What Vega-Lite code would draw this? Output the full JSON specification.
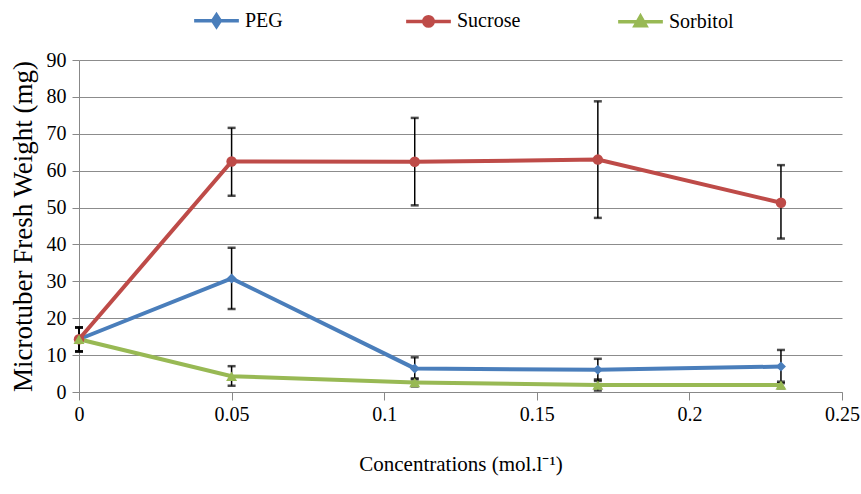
{
  "$schema": "https://vega.github.io/schema/vega-lite/v6.json",
  "width": 763,
  "height": 332,
  "autosize": {"type": "none"},
  "padding": {"left": 79, "top": 60, "right": 19, "bottom": 102},
  "background": "white",
  "config": {
    "font": "Liberation Serif",
    "view": {"stroke": null},
    "axis": {"labelColor": "black", "titleColor": "black", "titleFontWeight": "normal", "labelFont": "Liberation Serif", "titleFont": "Liberation Serif"},
    "axisX": {
      "format": "~g",
      "grid": false,
      "domainColor": "#888888",
      "tickColor": "#888888",
      "tickSize": 8,
      "labelFont": "Liberation Serif",
      "titleFont": "Liberation Serif",
      "labelFontSize": 20,
      "labelPadding": 4,
      "titleFontSize": 21,
      "titlePadding": 29,
      "labelFlush": false
    },
    "axisY": {
      "grid": true,
      "gridColor": "#8c8c8c",
      "gridWidth": 1,
      "domainColor": "#888888",
      "tickColor": "#888888",
      "tickSize": 7,
      "labelFont": "Liberation Serif",
      "titleFont": "Liberation Serif",
      "labelFontSize": 20,
      "labelPadding": 6,
      "titleFontSize": 27,
      "titlePadding": 9
    }
  },
  "data": {
    "values": [
      {"conc": 0, "series": "PEG", "mean": 14.3, "lo": 11.0, "hi": 17.5},
      {"conc": 0.05, "series": "PEG", "mean": 30.8, "lo": 22.5, "hi": 39.1},
      {"conc": 0.11, "series": "PEG", "mean": 6.4, "lo": 3.4, "hi": 9.4},
      {"conc": 0.17, "series": "PEG", "mean": 6.0, "lo": 3.0, "hi": 9.0},
      {"conc": 0.23, "series": "PEG", "mean": 6.9, "lo": 2.4, "hi": 11.4},
      {"conc": 0, "series": "Sucrose", "mean": 14.3, "lo": 11.0, "hi": 17.5},
      {"conc": 0.05, "series": "Sucrose", "mean": 62.5, "lo": 53.2, "hi": 71.6},
      {"conc": 0.11, "series": "Sucrose", "mean": 62.4, "lo": 50.6, "hi": 74.3},
      {"conc": 0.17, "series": "Sucrose", "mean": 63.0, "lo": 47.2, "hi": 78.8},
      {"conc": 0.23, "series": "Sucrose", "mean": 51.3, "lo": 41.6, "hi": 61.5},
      {"conc": 0, "series": "Sorbitol", "mean": 14.3, "lo": 11.0, "hi": 17.5},
      {"conc": 0.05, "series": "Sorbitol", "mean": 4.3, "lo": 1.7, "hi": 7.0},
      {"conc": 0.11, "series": "Sorbitol", "mean": 2.6, "lo": 1.5, "hi": 3.7},
      {"conc": 0.17, "series": "Sorbitol", "mean": 1.9, "lo": 0.4, "hi": 3.4},
      {"conc": 0.23, "series": "Sorbitol", "mean": 1.9, "lo": 1.0, "hi": 2.8}
    ]
  },
  "encoding": {
    "x": {
      "field": "conc", "type": "quantitative",
      "scale": {"domain": [0, 0.25], "nice": false},
      "axis": {"values": [0, 0.05, 0.1, 0.15, 0.2, 0.25], "title": "Concentrations (mol.l⁻¹)"}
    }
  },
  "layer": [
    {
      "mark": {"type": "rule", "color": "black", "strokeWidth": 1.5},
      "encoding": {
        "y": {
          "field": "lo", "type": "quantitative",
          "scale": {"domain": [0, 90], "nice": false},
          "axis": {"values": [0, 10, 20, 30, 40, 50, 60, 70, 80, 90], "title": "Microtuber Fresh Weight (mg)"}
        },
        "y2": {"field": "hi"}
      }
    },
    {
      "mark": {"type": "tick", "color": "black", "orient": "horizontal", "size": 8, "thickness": 2.5},
      "encoding": {
        "y": {"field": "lo", "type": "quantitative", "axis": {"values": [0, 10, 20, 30, 40, 50, 60, 70, 80, 90], "title": "Microtuber Fresh Weight (mg)"}}
      }
    },
    {
      "mark": {"type": "tick", "color": "black", "orient": "horizontal", "size": 8, "thickness": 2.5},
      "encoding": {
        "y": {"field": "hi", "type": "quantitative", "axis": {"values": [0, 10, 20, 30, 40, 50, 60, 70, 80, 90], "title": "Microtuber Fresh Weight (mg)"}}
      }
    },
    {
      "mark": {"type": "line", "strokeWidth": 4},
      "encoding": {
        "y": {"field": "mean", "type": "quantitative", "axis": {"values": [0, 10, 20, 30, 40, 50, 60, 70, 80, 90], "title": "Microtuber Fresh Weight (mg)"}},
        "color": {
          "field": "series", "type": "nominal",
          "scale": {"domain": ["PEG", "Sucrose", "Sorbitol"], "range": ["#4A7EBB", "#BE4B48", "#98B954"]},
          "legend": {
            "orient": "none",
            "legendX": 113,
            "legendY": -64,
            "direction": "horizontal",
            "columns": 3,
            "gridAlign": "all",
            "title": null,
            "padding": 0,
            "labelFontSize": 20,
            "labelFont": "Liberation Serif",
            "labelColor": "black",
            "symbolSize": 2000,
            "symbolStrokeWidth": 3.5,
            "labelOffset": 4,
            "columnPadding": 89,
            "encode": {
              "symbols": {
                "update": {
                  "shape": {"signal": "datum.value === 'PEG' ? 'M-1,0H1M0,-0.26L0.17,0L0,0.26L-0.17,0Z' : datum.value === 'Sucrose' ? 'M-1,0H1M0.21,0A0.21,0.21 0 1,1 -0.21,0A0.21,0.21 0 1,1 0.21,0Z' : 'M-1,0H1M0,-0.24L0.24,0.18L-0.24,0.18Z'"},
                  "fill": {"scale": "color", "field": "value"},
                  "stroke": {"scale": "color", "field": "value"},
                  "fillOpacity": {"value": 1},
                  "strokeWidth": {"value": 3.5}
                }
              }
            }
          }
        }
      }
    },
    {
      "transform": [{"filter": "datum.series === 'PEG'"}],
      "mark": {"type": "point", "filled": true, "opacity": 1, "size": 100, "shape": "diamond", "color": "#4A7EBB"},
      "encoding": {
        "y": {"field": "mean", "type": "quantitative", "axis": {"values": [0, 10, 20, 30, 40, 50, 60, 70, 80, 90], "title": "Microtuber Fresh Weight (mg)"}}
      }
    },
    {
      "transform": [{"filter": "datum.series === 'Sucrose'"}],
      "mark": {"type": "point", "filled": true, "opacity": 1, "size": 110, "shape": "circle", "color": "#BE4B48"},
      "encoding": {
        "y": {"field": "mean", "type": "quantitative", "axis": {"values": [0, 10, 20, 30, 40, 50, 60, 70, 80, 90], "title": "Microtuber Fresh Weight (mg)"}}
      }
    },
    {
      "transform": [{"filter": "datum.series === 'Sorbitol'"}],
      "mark": {"type": "point", "filled": true, "opacity": 1, "size": 120, "shape": "triangle-up", "color": "#98B954"},
      "encoding": {
        "y": {"field": "mean", "type": "quantitative", "axis": {"values": [0, 10, 20, 30, 40, 50, 60, 70, 80, 90], "title": "Microtuber Fresh Weight (mg)"}}
      }
    }
  ]
}
